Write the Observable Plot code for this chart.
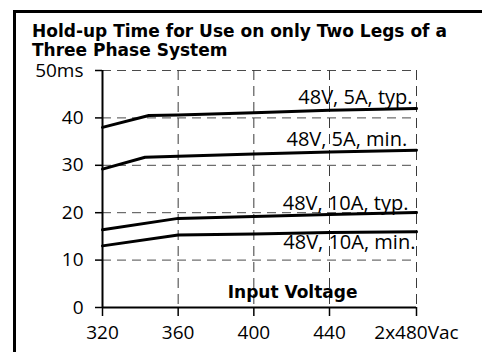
<!DOCTYPE html>
<html>
<head>
<meta charset="utf-8">
<script src="https://cdn.jsdelivr.net/npm/d3@7"></script>
<script src="https://cdn.jsdelivr.net/npm/@observablehq/plot@0.6"></script>
<style>
  html, body { margin: 0; padding: 0; background: #fff; }
  #wrap { position: relative; width: 482px; height: 352px; overflow: hidden; }
  #frame { position: absolute; left: 13px; top: 10px; width: 520px; height: 420px;
           border-left: 3px solid #000; border-top: 3px solid #000; box-sizing: border-box; }
  .title { position: absolute; left: 32px; font-family: "DejaVu Sans", sans-serif;
           font-weight: bold; font-size: 17px; line-height: 15px; height: 15px; color: #000; white-space: nowrap; }
  #t1 { top: 24px; }
  #t2 { top: 43px; }
  #chart { position: absolute; left: 0; top: 0; }
</style>
</head>
<body>
<div id="wrap">
  <div id="frame"></div>
  <div class="title" id="t1">Hold-up Time for Use on only Two Legs of a</div>
  <div class="title" id="t2">Three Phase System</div>
  <div id="chart"></div>
</div>
<script>
// ---- data ----
const seriesNames = ["48V, 5A, typ.", "48V, 5A, min.", "48V, 10A, typ.", "48V, 10A, min."];
const x5Typ  = [320, 344.5, 360, 400, 440, 480];
const y5Typ  = [38.0, 40.5, 40.6, 41.1, 41.6, 42.0];
const x5Min  = [320, 342.5, 360, 400, 440, 480];
const y5Min  = [29.2, 31.7, 31.9, 32.4, 32.8, 33.2];
const x10Typ = [320, 360, 400, 440, 480];
const y10Typ = [16.4, 18.8, 19.2, 19.6, 20.05];
const x10Min = [320, 360, 400, 440, 480];
const y10Min = [13.0, 15.3, 15.5, 15.8, 16.0];
const labelX = [478.2, 475.7, 476.3, 479.5];
const labelY = [43.0, 34.0, 20.6, 12.4];
const xTicks = [320, 360, 400, 440, 480];
const xTickLabels = ["320", "360", "400", "440", "2x480Vac"];
const yTicks = [0, 10, 20, 30, 40, 50];
const yTickLabels = ["0", "10", "20", "30", "40", "50ms"];
const xAxisTitle = "Input Voltage";
const xAxisTitlePos = [420.5, 2.05];

// ---- build ----
const xs = [x5Typ, x5Min, x10Typ, x10Min];
const ys = [y5Typ, y5Min, y10Typ, y10Min];
const lineData = seriesNames.flatMap((s, k) => xs[k].map((x, i) => ({series: s, x, y: ys[k][i]})));
const labelData = seriesNames.map((s, i) => ({text: s, x: labelX[i], y: labelY[i]}));

const chart = Plot.plot({
  width: 482, height: 352,
  marginLeft: 102, marginRight: 66, marginTop: 70, marginBottom: 45,
  style: {fontFamily: "Open Sans, sans-serif", fontSize: "19px", background: "transparent", color: "#000", overflow: "visible"},
  x: {type: "linear", domain: [320, 440, 480], range: [102, 329, 416]},
  y: {type: "linear", domain: [0, 50]},
  marks: [
    Plot.ruleY(yTicks.slice(1), {stroke: "#4a4a4a", strokeWidth: 1, strokeDasharray: "9,6"}),
    Plot.ruleX(xTicks.slice(1), {stroke: "#3a3a3a", strokeWidth: 1, strokeDasharray: "10,6"}),
    Plot.axisY({ticks: yTicks, tickFormat: d => yTickLabels[yTicks.indexOf(d)], tickSize: 7, tickPadding: 12,
                fontSize: 19, stroke: "#000", strokeWidth: 1.5, strokeOpacity: 1, label: null}),
    Plot.axisX({ticks: xTicks, tickFormat: d => xTickLabels[xTicks.indexOf(d)], tickSize: 9, tickPadding: 9,
                fontSize: 19, stroke: "#000", strokeWidth: 1.5, strokeOpacity: 1, label: null}),
    Plot.ruleX([320], {stroke: "#000", strokeWidth: 2}),
    Plot.ruleY([0], {stroke: "#000", strokeWidth: 2}),
    Plot.line(lineData, {x: "x", y: "y", z: "series", stroke: "#000", strokeWidth: 3, curve: "linear"}),
    Plot.text(labelData, {x: "x", y: "y", text: "text", textAnchor: "end", lineAnchor: "bottom",
                          fontSize: 20, fill: "#000"}),
    Plot.text([xAxisTitle], {x: () => xAxisTitlePos[0], y: () => xAxisTitlePos[1], text: d => d,
                             textAnchor: "middle", lineAnchor: "bottom", fontSize: 17, fontWeight: "bold",
                             fontFamily: "DejaVu Sans, sans-serif", fill: "#000"})
  ]
});
document.getElementById("chart").appendChild(chart);
</script>
</body>
</html>
